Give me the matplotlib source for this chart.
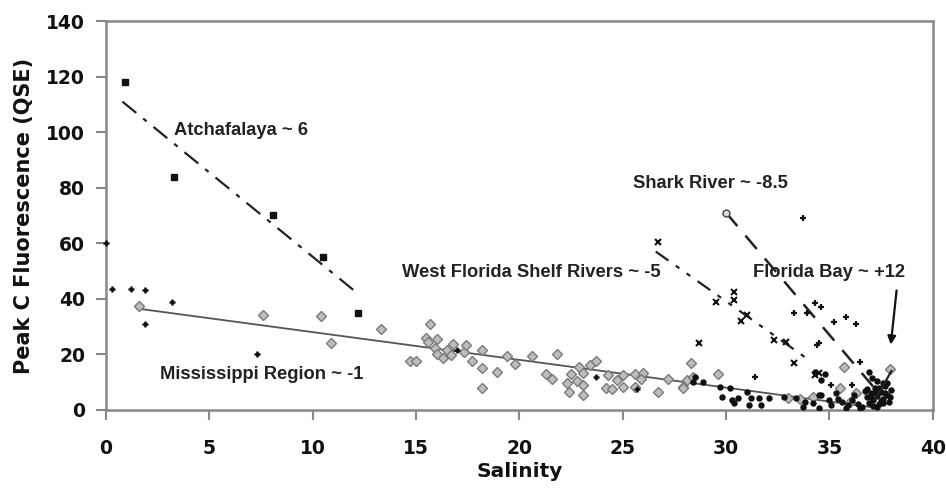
import matplotlib
matplotlib.use("Agg")
import matplotlib.pyplot as plt
import numpy as np

# ---------------- data ----------------
atch_x = [0.9, 3.3, 8.1, 10.5, 12.2]
atch_y = [118, 84, 70, 55, 35]

miss_black_x = [0.0, 0.3, 1.2, 1.9, 1.9, 3.2, 7.3, 17.0, 23.7, 25.7]
miss_black_y = [60, 43.5, 43.5, 43, 31, 39, 20, 21.6, 11.9, 7.5]

miss_x = [1.6, 7.6, 10.4, 10.9, 13.3, 14.7, 15.0, 15.7, 15.5, 15.6, 16.0, 15.9, 16.0,
          16.3, 16.5, 16.8, 16.7, 17.3, 17.4, 17.7, 18.2, 18.2, 18.2, 18.9, 19.4,
          19.8, 20.6, 21.8, 21.3, 21.6, 22.3, 22.4, 22.5, 22.9, 22.8, 23.1, 23.1,
          23.1, 23.4, 23.7, 24.2, 24.5, 24.3, 24.7, 25.0, 25.0, 25.6, 26.0, 25.6,
          25.9, 26.7, 27.2, 27.9, 28.1, 28.3, 29.6, 28.4, 27.9, 35.7, 37.95, 33.0,
          33.6, 34.2, 36.0, 35.5, 36.3]
miss_y = [37.5, 34, 33.9, 24, 29, 17.7, 17.7, 31, 26, 24.5, 25.5, 22.3, 20,
          18.7, 21.6, 23.7, 19.8, 21, 23.4, 17.7, 21.6, 15, 7.9, 13.8, 19.4,
          16.5, 19.4, 20.1, 12.9, 11.1, 9.8, 6.6, 12.9, 15.6, 10.4, 9, 5.4,
          13.4, 16.2, 17.7, 7.9, 7.5, 12.6, 10.8, 12.6, 8.3, 12.9, 13.4, 8.4,
          11.1, 6.6, 11.1, 8.3, 10.8, 16.8, 12.9, 12, 7.9, 15.6, 14.7, 4.3,
          3.8, 4.6, 3.0, 8, 6]

wfs_x = [26.7, 28.7, 29.5, 30.4, 30.4, 31.0, 30.7, 32.3, 32.9, 33.3, 34.3, 34.5]
wfs_y = [60.4, 24.2, 39, 42.6, 39.6, 34, 32, 25, 24.6, 16.9, 12.6, 13.4]

shark_x = [30.0]
shark_y = [71]

fb_x = [33.7, 33.3, 33.9, 34.3, 34.6, 35.8, 36.3, 35.2, 34.5, 31.4, 34.4, 36.5, 35.1, 36.1]
fb_y = [69, 35, 35, 38.5, 37, 33.5, 31, 31.6, 24, 12, 23.4, 17.4, 9, 9]

dots_x = [28.5, 28.9, 28.4, 29.7, 30.2, 29.8, 30.3, 30.6, 30.4, 31.0, 31.2, 31.1, 31.6,
          31.7, 32.1, 32.8, 33.4, 33.7, 33.8, 34.2, 34.5, 34.5, 34.6, 34.6, 35.1,
          35.6, 35.9, 36.1, 36.4, 36.6, 36.8, 36.9, 37.0, 37.1, 37.2, 37.3, 37.4,
          37.5, 37.6, 37.7, 37.8, 37.9, 38.0, 37.6, 37.3, 36.7, 35.4, 35.0, 36.2,
          35.3, 37.95, 37.1, 36.5, 35.8, 34.8, 34.3, 36.9, 37.05, 37.4, 37.2, 37.6,
          37.8, 37.0, 37.5, 36.8, 37.3, 37.7]
dots_y = [12, 10.2, 10.2, 8.4, 7.8, 4.8, 3.6, 4.4, 2.4, 6.6, 4.2, 1.8, 4.2,
          1.8, 4.2, 4.8, 4.2, 1.2, 3, 2.5, 5.4, 0.5, 10.8, 5.4, 1.8,
          2.9, 1.8, 3.5, 2.2, 1.2, 4.5, 2.5, 6, 3.5, 8, 5, 2,
          6.5, 4, 8.5, 5.5, 3, 7, 9.5, 10.5, 6.8, 4, 3.4, 5.5,
          6.2, 4.5, 1.5, 0.8, 0.6, 13, 13.8, 13.8, 11.5, 7.9, 6.5, 2.5,
          9.5, 4.5, 3.2, 7.5, 1.0, 6.0]

# fitted trend lines (end points)
atch_fit_x = [0.8, 12.0]
atch_fit_y = [111, 43]
miss_fit_x = [1.5, 37.0]
miss_fit_y = [36.5, 1.0]
wfs_fit_x = [26.6, 34.0]
wfs_fit_y = [57, 18]
shark_fit_x = [30.0, 37.5]
shark_fit_y = [71, 5]
fb_fit_x = [37.2, 38.0]
fb_fit_y = [3.5, 14]

labels = ["Atchafalaya ~ 6", "Mississippi Region ~ -1", "West Florida Shelf Rivers ~ -5",
          "Shark River ~ -8.5", "Florida Bay ~ +12"]
label_x = [3.3, 2.6, 14.3, 25.5, 31.3]
label_y = [100.5, 12.6, 49.6, 81.7, 49.3]

x_ticks = [0, 5, 10, 15, 20, 25, 30, 35, 40]
y_ticks = [0, 20, 40, 60, 80, 100, 120, 140]

# ---------------- figure ----------------
fig = plt.figure(figsize=(9.46, 4.92), dpi=100)
ax = fig.add_axes([0.112, 0.167, 0.874, 0.790])

gray_edge = "#7a7a7a"
ax.plot(miss_x, miss_y, linestyle="none", marker="D", markersize=4.6,
        markerfacecolor="#bdbdbd", markeredgecolor=gray_edge, markeredgewidth=1.0, zorder=3)
ax.plot(dots_x, dots_y, linestyle="none", marker="o", markersize=3.6,
        color="#111111", zorder=4)
ax.plot(miss_black_x, miss_black_y, linestyle="none", marker="+", markersize=5,
        markeredgewidth=1.8, color="#111111", zorder=4, clip_on=False)
ax.plot(atch_x, atch_y, linestyle="none", marker="s", markersize=4.2,
        color="#111111", zorder=4)
ax.plot(wfs_x, wfs_y, linestyle="none", marker="x", markersize=4.5,
        markeredgewidth=1.5, color="#111111", zorder=4)
ax.plot(fb_x, fb_y, linestyle="none", marker="+", markersize=5,
        markeredgewidth=1.6, color="#111111", zorder=4)
ax.plot(shark_x, shark_y, linestyle="none", marker="o", markersize=5,
        markerfacecolor="#dddddd", markeredgecolor="#444444", zorder=4)

ax.plot(atch_fit_x, atch_fit_y, color="#222222", lw=1.6, linestyle=(0, (8, 4, 2, 4)), zorder=2)
ax.plot(miss_fit_x, miss_fit_y, color="#555555", lw=1.3, linestyle="-", zorder=2)
ax.plot(wfs_fit_x, wfs_fit_y, color="#222222", lw=1.6, linestyle=(0, (7, 4, 2, 4, 2, 4)), zorder=2)
ax.plot(shark_fit_x, shark_fit_y, color="#222222", lw=1.8, linestyle=(0, (7, 5)), zorder=2)
ax.plot(fb_fit_x, fb_fit_y, color="#222222", lw=1.6, linestyle="-", zorder=5)

ax.annotate("", xy=(37.97, 23.5), xytext=(38.25, 43),
            arrowprops=dict(arrowstyle="-|>", color="#111111", lw=1.6,
                            mutation_scale=12, shrinkA=0, shrinkB=0))

for t, x, y in zip(labels, label_x, label_y):
    ax.text(x, y, t, ha="left", va="center", fontsize=13.2, fontweight="bold",
            family=["Liberation Sans Narrow", "Liberation Sans", "DejaVu Sans"],
            color="#222222", zorder=6)

ax.set_xlim(0, 40)
ax.set_ylim(0, 140)
ax.set_xticks(x_ticks)
ax.set_yticks(y_ticks)
ax.set_xticklabels([str(v) for v in x_ticks])
ax.set_yticklabels([str(v) for v in y_ticks])
for lab in ax.get_xticklabels() + ax.get_yticklabels():
    lab.set_fontweight("bold")
    lab.set_fontsize(13.5)
    lab.set_color("#111111")
ax.tick_params(axis="both", direction="out", length=7, width=1.5, color="#888888")
ax.tick_params(axis="y", pad=8)
ax.tick_params(axis="x", pad=14)
for s in ax.spines.values():
    s.set_color("#888888")
    s.set_linewidth(1.8)

ax.set_xlabel("Salinity", fontsize=14.5, fontweight="bold", color="#111111")
ax.set_ylabel("Peak C Fluorescence (QSE)", fontsize=15, fontweight="bold", color="#111111")
ax.xaxis.set_label_coords(0.5, -0.159)
ax.yaxis.set_label_coords(-0.099, 0.5)
ax.xaxis.label.set_va("center")
ax.yaxis.label.set_va("center")

fig.savefig("out.png", dpi=100)
